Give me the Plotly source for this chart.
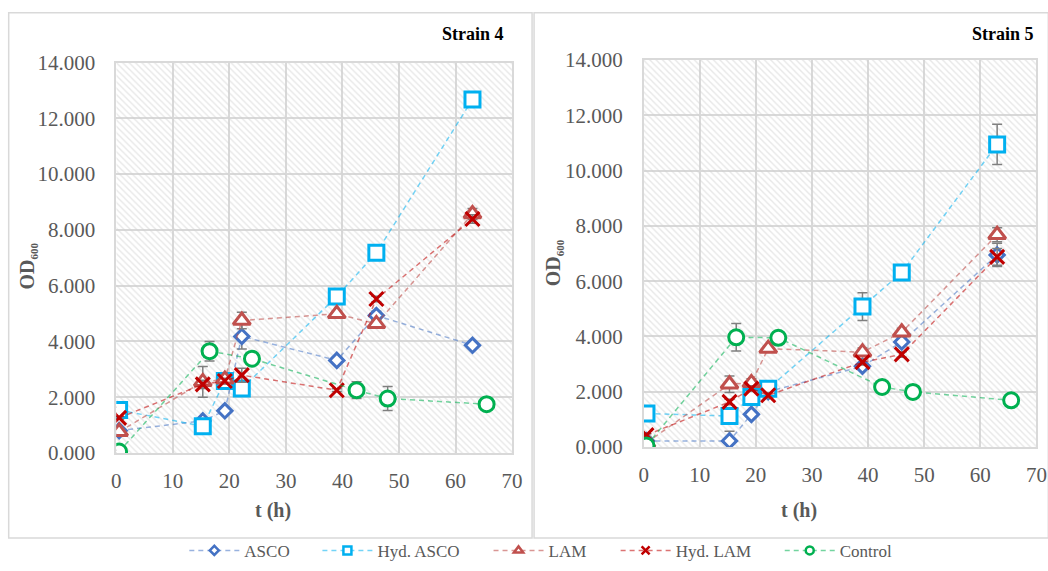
import plotly.graph_objects as go

W, H = 1048, 571
FONT = "Liberation Serif"

# ---------------- data ----------------
T_MAIN = [0.5, 15.3, 19.2, 22.2, 39.0, 46.0, 63.0]
T_CTRL = [0.5, 16.5, 24.0, 42.5, 48.0, 65.5]

# Strain 4
S4_ASCO = [0.80, 1.15, 1.51, 4.18, 3.32, 4.93, 3.86]
S4_ASCO_ERR = [0.05, 0.10, 0.10, 0.45, 0.10, 0.15, 0.10]
S4_HASCO = [1.54, 0.96, 2.58, 2.31, 5.61, 7.18, 12.68]
S4_HASCO_ERR = [0.10, 0.10, 0.10, 0.15, 0.10, 0.25, 0.10]
S4_LAM = [0.76, 2.55, 2.64, 4.75, 4.99, 4.63, 8.57]
S4_LAM_ERR = [0.10, 0.55, 0.15, 0.30, 0.10, 0.15, 0.20]
S4_HLAM = [1.26, 2.46, 2.58, 2.79, 2.25, 5.52, 8.39]
S4_HLAM_ERR = [0.05, 0.15, 0.10, 0.25, 0.05, 0.10, 0.15]
S4_CTRL = [0.05, 3.65, 3.38, 2.25, 1.95, 1.75]
S4_CTRL_ERR = [0.05, 0.35, 0.15, 0.30, 0.43, 0.15]

# Strain 5
S5_ASCO = [0.22, 0.22, 1.18, 2.00, 2.92, 3.80, 6.95]
S5_ASCO_ERR = [0.05, 0.35, 0.10, 0.10, 0.10, 0.15, 0.42]
S5_HASCO = [1.21, 1.12, 1.81, 2.11, 5.08, 6.31, 10.95]
S5_HASCO_ERR = [0.05, 0.10, 0.10, 0.10, 0.50, 0.15, 0.73]
S5_LAM = [0.15, 2.27, 2.32, 3.56, 3.43, 4.15, 7.68]
S5_LAM_ERR = [0.05, 0.30, 0.15, 0.10, 0.15, 0.15, 0.25]
S5_HLAM = [0.43, 1.63, 2.11, 1.87, 3.07, 3.35, 6.88]
S5_HLAM_ERR = [0.05, 0.10, 0.10, 0.10, 0.10, 0.10, 0.30]
S5_CTRL = [0.05, 3.97, 3.95, 2.17, 1.99, 1.69]
S5_CTRL_ERR = [0.05, 0.50, 0.15, 0.15, 0.08, 0.05]

SERIES = ["ASCO", "Hyd. ASCO", "LAM", "Hyd. LAM", "Control"]
X_TICKS = [0, 10, 20, 30, 40, 50, 60, 70]
Y_TICKS = [0, 2, 4, 6, 8, 10, 12, 14]
X_MAX, Y_MAX = 70, 14

# ---------------- styles ----------------
STYLE = {
    "ASCO": dict(sym="diamond", size=11, lsize=7, mc="#4472C4", fill="white",
                 lc="rgba(68,114,196,0.55)"),
    "Hyd. ASCO": dict(sym="square", size=15, lsize=8, mc="#00B0F0", fill="white",
                      lc="rgba(0,176,240,0.55)"),
    "LAM": dict(sym="triangle-up", size=15, lsize=8, mc="#C0504D", fill="white",
                lc="rgba(192,80,77,0.6)"),
    "Hyd. LAM": dict(sym="x-thin", size=14, lsize=8, mc="#C00000", fill="#C00000",
                     lc="rgba(192,0,0,0.55)"),
    "Control": dict(sym="circle", size=15, lsize=8, mc="#00B050", fill="white",
                    lc="rgba(0,176,80,0.55)"),
}
# where each legend entry's text starts (target picture px)
LEG_TEXT_X = {"ASCO": 245, "Hyd. ASCO": 378, "LAM": 549, "Hyd. LAM": 676, "Control": 840}
LEG_ID = {"ASCO": "legend", "Hyd. ASCO": "legend2", "LAM": "legend3",
          "Hyd. LAM": "legend4", "Control": "legend5"}

# the photographed page comes out slightly shrunk/offset; map target px -> figure px
SX, OX = 0.985, 4.8
SY, OY = 0.962, 10.2

def fx(x):
    return (x - OX) / SX

def fy(y):
    return (y - OY) / SY

def px(x):
    return fx(x) / W

def py(y):
    return 1 - fy(y) / H

fig = go.Figure()

# hatched plot-area backgrounds
for xa, ya in (("x", "y"), ("x2", "y2")):
    fig.add_trace(go.Scatter(
        x=[0, X_MAX, X_MAX, 0, 0], y=[0, 0, Y_MAX, Y_MAX, 0],
        xaxis=xa, yaxis=ya, mode="lines", line=dict(width=0),
        fill="toself", fillcolor="rgba(0,0,0,0)",
        fillpattern=dict(shape="\\", fgcolor="#cfcfcf", bgcolor="rgba(0,0,0,0)",
                         size=4.5, solidity=0.3),
        hoverinfo="skip", showlegend=False))

panels = [
    ("x", "y", [S4_ASCO, S4_HASCO, S4_LAM, S4_HLAM, S4_CTRL],
     [S4_ASCO_ERR, S4_HASCO_ERR, S4_LAM_ERR, S4_HLAM_ERR, S4_CTRL_ERR]),
    ("x2", "y2", [S5_ASCO, S5_HASCO, S5_LAM, S5_HLAM, S5_CTRL],
     [S5_ASCO_ERR, S5_HASCO_ERR, S5_LAM_ERR, S5_HLAM_ERR, S5_CTRL_ERR]),
]

for xa, ya, vals, errs in panels:
    for name, v, e in zip(SERIES, vals, errs):
        st = STYLE[name]
        t = T_CTRL if name == "Control" else T_MAIN
        fig.add_trace(go.Scatter(
            x=t, y=v, xaxis=xa, yaxis=ya, name=name, showlegend=False,
            mode="lines+markers",
            line=dict(color=st["lc"], width=1.5, dash="5px,4px"),
            marker=dict(symbol=st["sym"], size=st["size"], color=st["fill"],
                        line=dict(color=st["mc"], width=3)),
            error_y=dict(type="data", array=e, visible=True, color="#7f7f7f",
                         thickness=1.5, width=5),
        ))

# legend entries (small markers as in the original legend)
for name in SERIES:
    st = STYLE[name]
    fig.add_trace(go.Scatter(
        x=[None], y=[None], name=name, legend=LEG_ID[name], showlegend=True,
        mode="lines+markers",
        line=dict(color=st["lc"], width=1.5, dash="5px,4px"),
        marker=dict(symbol=st["sym"], size=st["lsize"], color=st["fill"],
                    line=dict(color=st["mc"], width=2.5)),
        hoverinfo="skip"))

axis_common = dict(
    range=[0, X_MAX], tickvals=X_TICKS, showgrid=True, gridcolor="#d9d9d9",
    gridwidth=1.5, zeroline=False, showline=True, linecolor="#d9d9d9", linewidth=1.5,
    mirror=True, ticks="", tickfont=dict(family=FONT, size=21, color="#595959"),
    ticklabelstandoff=8, fixedrange=True,
)
yaxis_common = dict(
    range=[0, Y_MAX], tickvals=Y_TICKS, tickformat=".3f", showgrid=True,
    gridcolor="#d9d9d9", gridwidth=1.5, zeroline=False, showline=True,
    linecolor="#d9d9d9", linewidth=1.5, mirror=True, ticks="",
    tickfont=dict(family=FONT, size=21, color="#595959"),
    ticklabelstandoff=15, fixedrange=True,
)

legends = {}
for name in SERIES:
    legends[LEG_ID[name]] = dict(
        orientation="h", x=px(LEG_TEXT_X[name] - 61), xanchor="left",
        y=1 - 562.5 / H, yanchor="middle",
        font=dict(family=FONT, size=17, color="#595959"),
        bgcolor="rgba(0,0,0,0)", itemwidth=50)

fig.update_layout(
    width=W, height=H, margin=dict(l=0, r=0, t=0, b=0),
    paper_bgcolor="white", plot_bgcolor="white",
    font=dict(family=FONT, color="#595959"),
    xaxis=dict(axis_common, domain=[px(116), px(511.5)], anchor="y"),
    yaxis=dict(yaxis_common, domain=[py(453), py(61)], anchor="x"),
    xaxis2=dict(axis_common, domain=[px(643), min(1.0, px(1035.5))], anchor="y2"),
    yaxis2=dict(yaxis_common, domain=[py(447), py(58.5)], anchor="x2"),
    showlegend=True,
    **legends,
)

# panel borders
fig.add_shape(type="rect", xref="paper", yref="paper",
              x0=px(8.5), x1=px(531.5), y0=py(538.5), y1=1 - 0.75 / H,
              line=dict(color="#d9d9d9", width=1.5))
fig.add_shape(type="rect", xref="paper", yref="paper",
              x0=px(533.5), x1=1.01, y0=py(538.5), y1=1 - 0.75 / H,
              line=dict(color="#d9d9d9", width=1.5))

ann = [
    dict(text="<b>Strain 4</b>", x=px(505.5), y=py(32), xanchor="right", size=18, color="black"),
    dict(text="<b>Strain 5</b>", x=min(1.0, px(1041)) - 2 / W, y=py(32), xanchor="right",
         size=18, color="black"),
    dict(text="<b>t (h)</b>", x=px(273), y=py(511), xanchor="center", size=20, color="#595959"),
    dict(text="<b>t (h)</b>", x=px(798), y=py(511), xanchor="center", size=20, color="#595959"),
]
for a in ann:
    fig.add_annotation(text=a["text"], x=a["x"], y=a["y"], xref="paper", yref="paper",
                       xanchor=a["xanchor"], yanchor="middle", showarrow=False,
                       font=dict(family=FONT, size=a["size"], color=a["color"]))
for xx, yy in ((27.5, 265), (553, 262)):
    fig.add_annotation(text="<b>OD<sub><span style='font-size:11px'>600</span></sub></b>",
                       x=px(xx), y=py(yy), xref="paper",
                       yref="paper", xanchor="center", yanchor="middle", showarrow=False,
                       textangle=-90, font=dict(family=FONT, size=20, color="#595959"))

fig.write_html("out.html")
